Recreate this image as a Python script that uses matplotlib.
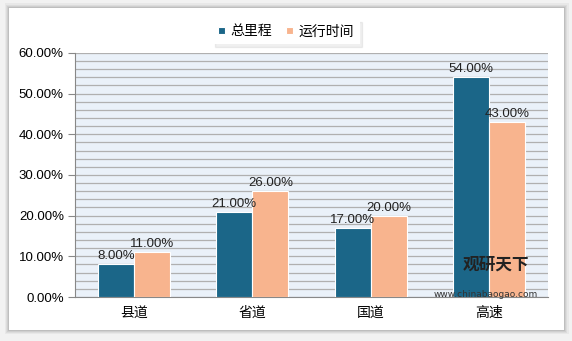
import numpy as np
import matplotlib.pyplot as plt
from matplotlib.patches import Rectangle

plt.rcParams['font.family'] = ['Noto Sans CJK SC', 'DejaVu Sans']

categories = ['县道', '省道', '国道', '高速']
total_mileage = [8, 21, 17, 54]
run_time = [11, 26, 20, 43]
series_names = ['总里程', '运行时间']

dark = '#1b6688'
peach = '#f8b48e'
num_font = 'Liberation Sans'

fig = plt.figure(figsize=(5.72, 3.41), dpi=100)
fig.patch.set_facecolor('#f2f2f2')

# white card with soft shadow
for i, a in enumerate([0.04, 0.05, 0.06, 0.08]):
    d = (4 - i) * 0.002
    fig.patches.append(Rectangle((0.016 - d, 0.032 - d * 1.6), 0.970 + 2 * d, 0.945 + 2 * d * 1.6,
                                 transform=fig.transFigure, facecolor='#000000', alpha=a,
                                 edgecolor='none', zorder=-2))
fig.patches.append(Rectangle((0.016, 0.032), 0.970, 0.945, transform=fig.transFigure,
                             facecolor='white', edgecolor='none', zorder=-1))

ax = fig.add_axes([0.131, 0.129, 0.827, 0.716])
ax.set_zorder(1)
ax.set_facecolor('#eaf1f9')

x = np.arange(len(categories))
w = 0.305
b1 = ax.bar(x - w / 2, total_mileage, w, color=dark, edgecolor='white', linewidth=0.8, zorder=3)
b2 = ax.bar(x + w / 2, run_time, w, color=peach, edgecolor='white', linewidth=0.8, zorder=3)

for bars, vals in [(b1, total_mileage), (b2, run_time)]:
    for r, v in zip(bars, vals):
        ax.text(r.get_x() + r.get_width() / 2, v + 0.5, f'{v:.2f}%', ha='center', va='bottom',
                fontsize=9.5, family=num_font, color='#222222', zorder=4)

ax.set_xlim(-0.5, 3.5)
ax.set_ylim(0, 60)
ax.set_yticks(np.arange(0, 61, 10))
ax.set_yticklabels([f'{t:.2f}%' for t in range(0, 61, 10)], family=num_font)
ax.set_yticks(np.arange(0, 61, 2), minor=True)
ax.yaxis.grid(True, which='both', color='#b0b0b0', linewidth=0.9, zorder=0)
ax.set_axisbelow(True)
ax.tick_params(axis='y', which='major', length=5, color='#888888', labelsize=9.5, pad=3)
ax.tick_params(axis='y', which='minor', length=0)
ax.tick_params(axis='x', length=0, labelsize=10, pad=6)
ax.set_xticks(x)
ax.set_xticklabels(categories)
for s in ['top', 'right']:
    ax.spines[s].set_visible(False)
ax.spines['left'].set_color('#888888')
ax.spines['bottom'].set_color('#888888')

leg = fig.legend([b1, b2], series_names, loc='upper center', bbox_to_anchor=(0.5, 0.965),
                 ncol=2, frameon=True, fontsize=10, handlelength=0.5, handleheight=0.5,
                 handletextpad=0.4, columnspacing=1.0, borderpad=0.4, fancybox=False,
                 shadow={'color': '#000000', 'alpha': 0.06})
leg.get_frame().set_edgecolor('none')

# watermark
fig.text(0.925, 0.225, '观研天下', ha='right', va='center', fontsize=12, weight='bold',
         color='#222222', zorder=5)
fig.text(0.94, 0.135, 'www.chinabaogao.com', ha='right', va='center', fontsize=6.5,
         family='DejaVu Sans', color='#333333', zorder=5)

fig.savefig('out.png', dpi=100, facecolor=fig.get_facecolor())
